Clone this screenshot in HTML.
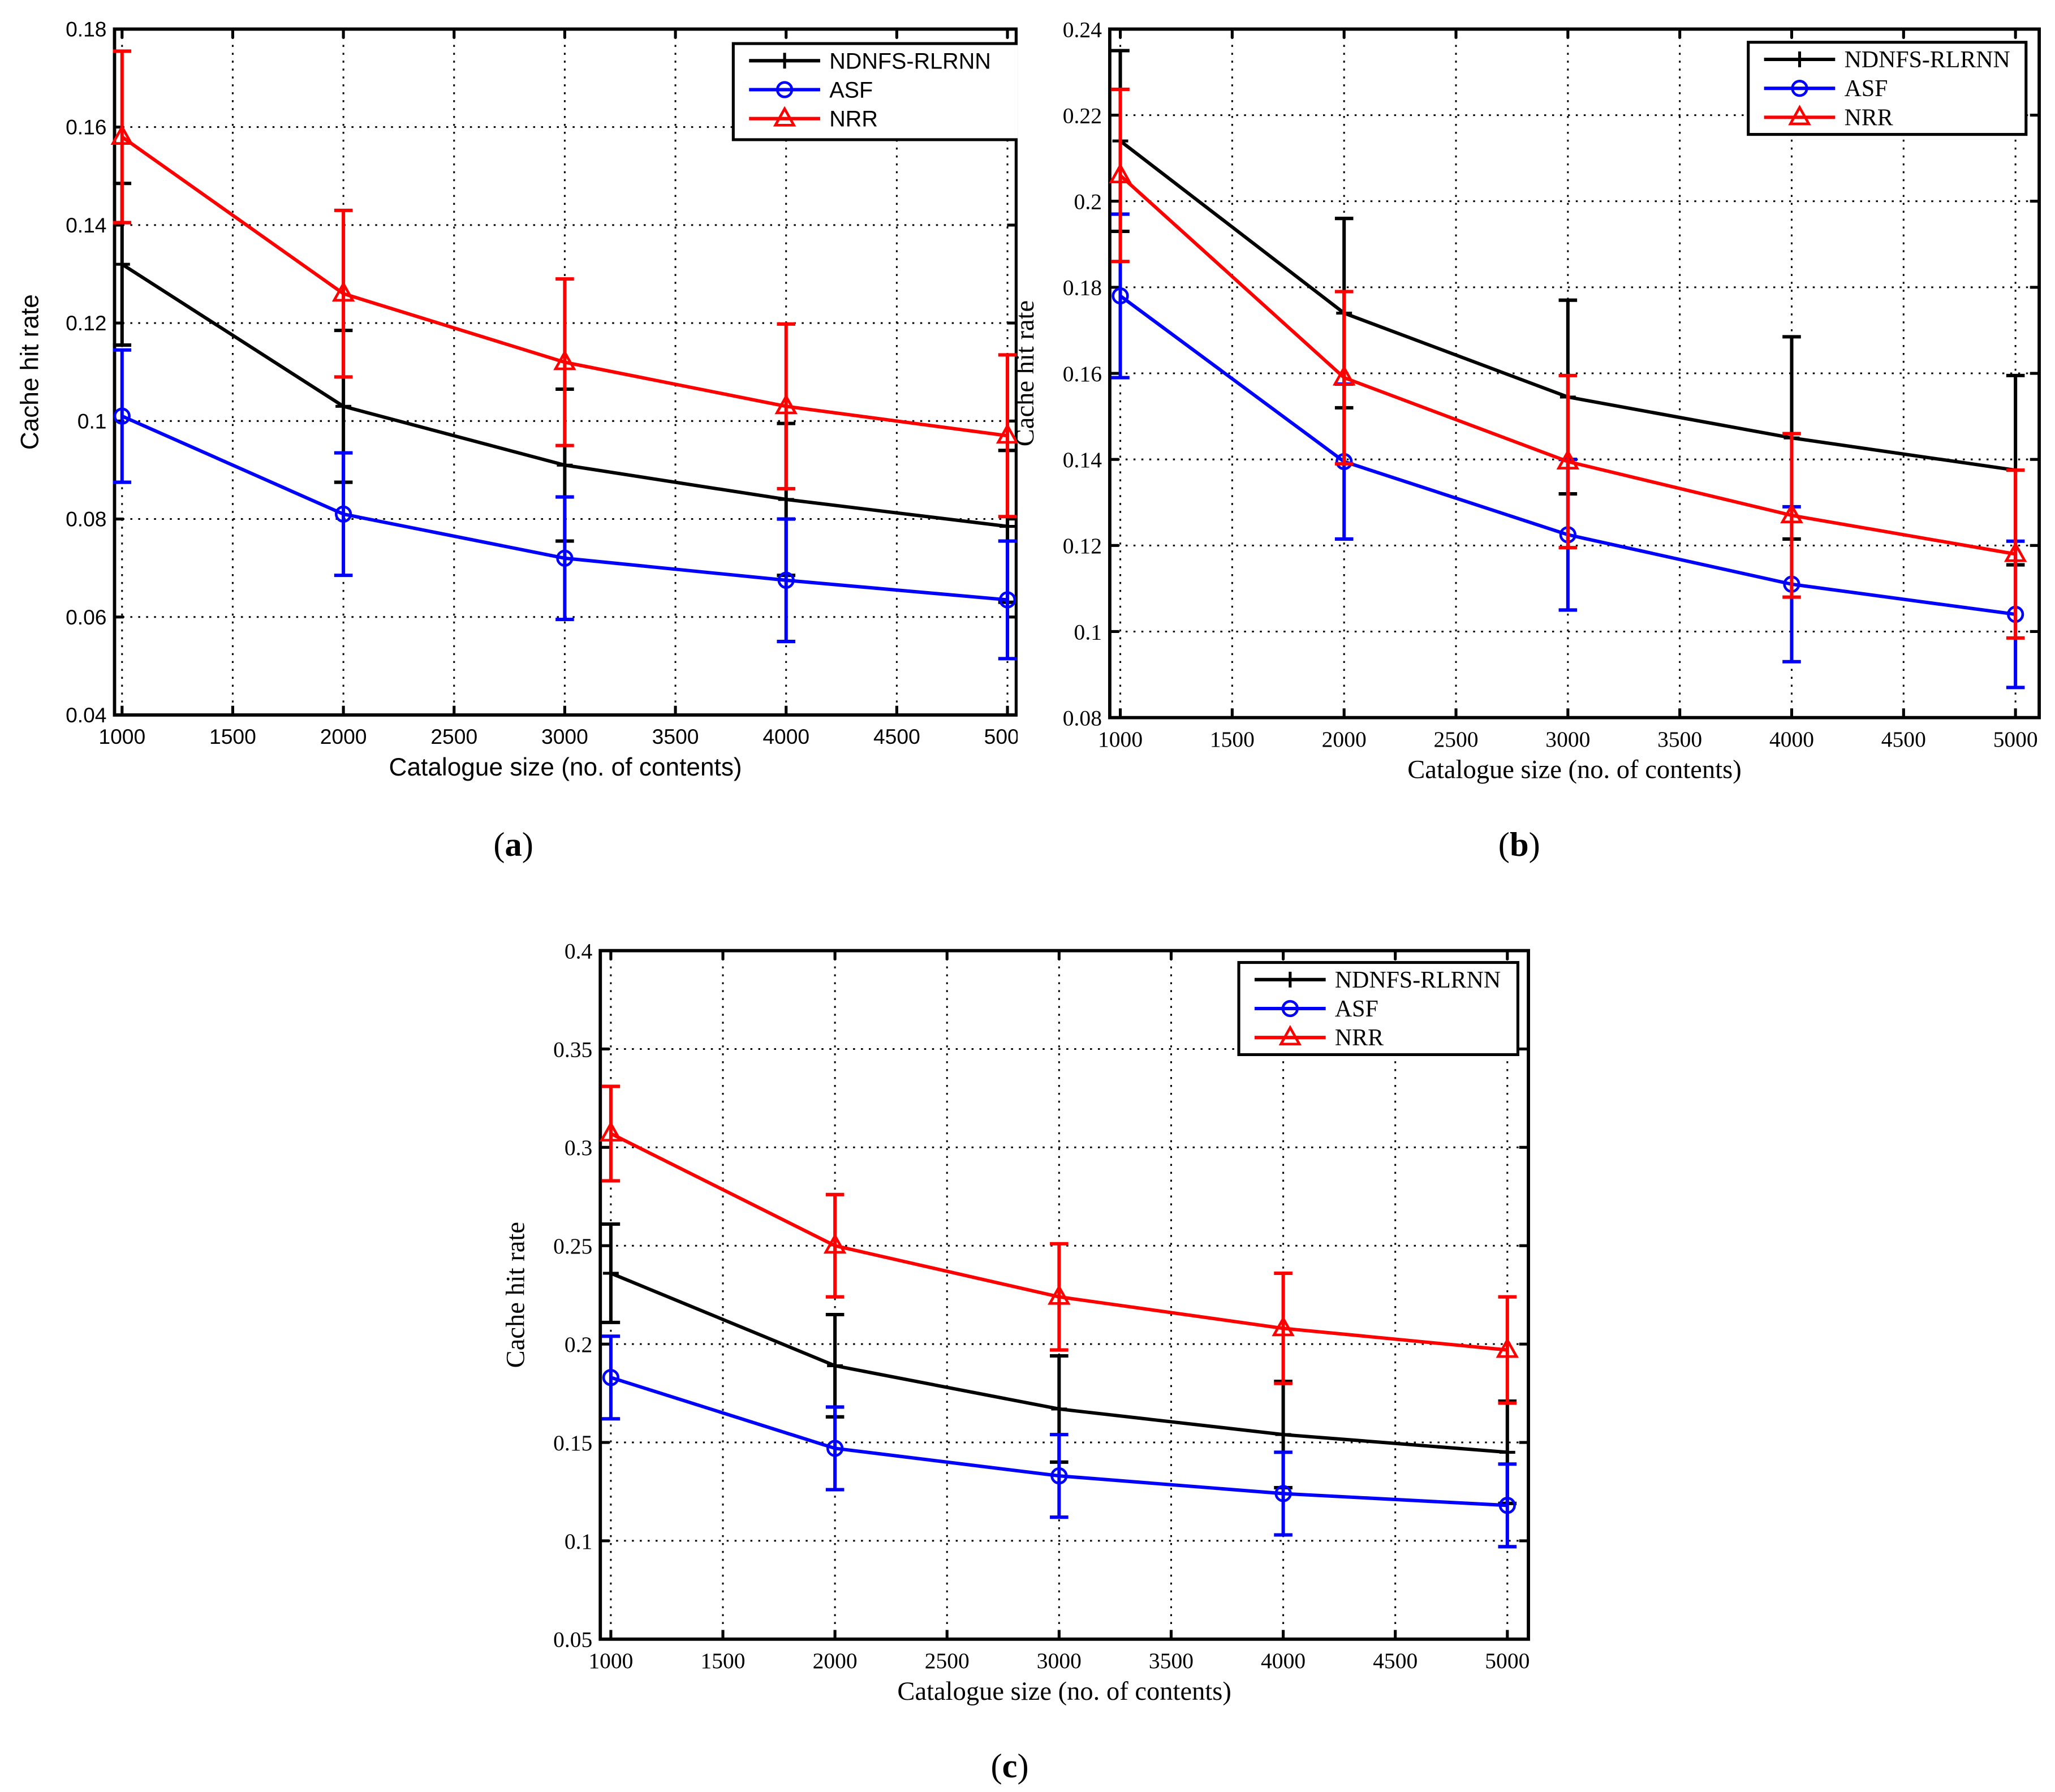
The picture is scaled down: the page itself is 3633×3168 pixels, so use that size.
<!DOCTYPE html>
<html><head><meta charset="utf-8"><style>
html,body{margin:0;padding:0;background:#fff;}
svg{display:block;}
</style></head><body>
<svg id="fig" xmlns="http://www.w3.org/2000/svg" width="3633" height="3168" viewBox="0 0 1561 1361">
<rect width="1561" height="1361" fill="#fff"/>
<defs><clipPath id="clipA"><rect x="0" y="0" width="773" height="700"/></clipPath></defs>
<g id="pa" clip-path="url(#clipA)"></g>
<g id="pb"></g>
<g id="pc"></g>
<text x="390" y="650" text-anchor="middle" font-family="Liberation Serif, serif" font-size="26">(<tspan font-weight="bold">a</tspan>)</text>
<text x="1154" y="650" text-anchor="middle" font-family="Liberation Serif, serif" font-size="26">(<tspan font-weight="bold">b</tspan>)</text>
<text x="767" y="1350" text-anchor="middle" font-family="Liberation Serif, serif" font-size="26">(<tspan font-weight="bold">c</tspan>)</text>
</svg>
<script>
const categories = [1000, 2000, 3000, 4000, 5000];
const seriesNames = ["NDNFS-RLRNN", "ASF", "NRR"];
// Panel a
const aNdnfs = [0.132, 0.103, 0.091, 0.084, 0.0785];
const aNdnfsErr = [0.0165, 0.0155, 0.0155, 0.0155, 0.0155];
const aAsf = [0.101, 0.081, 0.072, 0.0675, 0.0635];
const aAsfErr = [0.0135, 0.0125, 0.0125, 0.0125, 0.012];
const aNrr = [0.158, 0.126, 0.112, 0.103, 0.097];
const aNrrErr = [0.0175, 0.017, 0.017, 0.0168, 0.0165];
const aYTicks = [0.04, 0.06, 0.08, 0.1, 0.12, 0.14, 0.16, 0.18];
const aYLabels = ["0.04","0.06","0.08","0.1","0.12","0.14","0.16","0.18"];
// Panel b
const bNdnfs = [0.214, 0.174, 0.1545, 0.145, 0.1375];
const bNdnfsErr = [0.021, 0.022, 0.0225, 0.0235, 0.022];
const bAsf = [0.178, 0.1395, 0.1225, 0.111, 0.104];
const bAsfErr = [0.019, 0.018, 0.0175, 0.018, 0.017];
const bNrr = [0.206, 0.159, 0.1395, 0.127, 0.118];
const bNrrErr = [0.020, 0.020, 0.020, 0.019, 0.0195];
const bYTicks = [0.08, 0.1, 0.12, 0.14, 0.16, 0.18, 0.2, 0.22, 0.24];
const bYLabels = ["0.08","0.1","0.12","0.14","0.16","0.18","0.2","0.22","0.24"];
// Panel c
const cNdnfs = [0.236, 0.189, 0.167, 0.154, 0.145];
const cNdnfsErr = [0.025, 0.026, 0.027, 0.027, 0.026];
const cAsf = [0.183, 0.147, 0.133, 0.124, 0.118];
const cAsfErr = [0.021, 0.021, 0.021, 0.021, 0.021];
const cNrr = [0.307, 0.25, 0.224, 0.208, 0.197];
const cNrrErr = [0.024, 0.026, 0.027, 0.028, 0.027];
const cYTicks = [0.05, 0.1, 0.15, 0.2, 0.25, 0.3, 0.35, 0.4];
const cYLabels = ["0.05","0.1","0.15","0.2","0.25","0.3","0.35","0.4"];
const xTicks = [1000, 1500, 2000, 2500, 3000, 3500, 4000, 4500, 5000];
const xLabels = ["1000","1500","2000","2500","3000","3500","4000","4500","5000"];

const NS = "http://www.w3.org/2000/svg";
function mk(parent, tag, attrs, text) {
  const e = document.createElementNS(NS, tag);
  for (const k in attrs) e.setAttribute(k, attrs[k]);
  if (text !== undefined) e.textContent = text;
  parent.appendChild(e);
  return e;
}

function panel(g, cfg) {
  const {L, R, T, B, xmin, xmax, ymin, ymax, font, fs, yT, yL, series, leg, key} = cfg;
  const sx = v => L + (v - xmin) / (xmax - xmin) * (R - L);
  const sy = v => B - (v - ymin) / (ymax - ymin) * (B - T);
  xTicks.forEach((t, i) => {
    const x = sx(t);
    const gl = mk(g, "line", {x1: x, x2: x, y1: T, y2: B, stroke: "#000", "stroke-width": 1.3, "stroke-dasharray": "1.5,4.5"});
    
    
    mk(g, "line", {x1: x, x2: x, y1: B, y2: B - 7, stroke: "#000", "stroke-width": 2.2});
    mk(g, "line", {x1: x, x2: x, y1: T, y2: T + 7, stroke: "#000", "stroke-width": 2.2});
    const tl = mk(g, "text", {x: x, y: B + 22, "text-anchor": "middle", "font-family": font, "font-size": fs}, xLabels[i]);
    
    
  });
  yT.forEach((t, i) => {
    const y = sy(t);
    const gl = mk(g, "line", {x1: L, x2: R, y1: y, y2: y, stroke: "#000", "stroke-width": 1.3, "stroke-dasharray": "1.5,4.5"});
    
    
    mk(g, "line", {x1: L, x2: L + 7, y1: y, y2: y, stroke: "#000", "stroke-width": 2.2});
    mk(g, "line", {x1: R, x2: R - 7, y1: y, y2: y, stroke: "#000", "stroke-width": 2.2});
    const tl = mk(g, "text", {x: L - 6, y: y + fs * 0.35, "text-anchor": "end", "font-family": font, "font-size": fs}, yL[i]);
    
    
  });
  const box = mk(g, "rect", {x: L, y: T, width: R - L, height: B - T, fill: "none", stroke: "#000", "stroke-width": 2.5});
  
  
  const xt = mk(g, "text", {x: (L + R) / 2, y: B + 46, "text-anchor": "middle", "font-family": font, "font-size": fs + 3}, "Catalogue size (no. of contents)");
  
  
  const yx = L - 58, yy = (T + B) / 2;
  const yt = mk(g, "text", {x: yx, y: yy, "text-anchor": "middle", "font-family": font, "font-size": fs + 3, transform: `rotate(-90 ${yx} ${yy})`}, "Cache hit rate");
  
  
  series.forEach(s => {
    const sg = mk(g, "g", {});
    
    
    const pts = categories.map((c, i) => sx(c) + "," + sy(s.vals[i])).join(" ");
    mk(sg, "polyline", {points: pts, fill: "none", stroke: s.color, "stroke-width": 2.6});
    categories.forEach((c, i) => {
      const x = sx(c), y1 = sy(s.vals[i] + s.err[i]), y2 = sy(s.vals[i] - s.err[i]);
      const eb = mk(sg, "path", {d: `M${x},${y1}V${y2}M${x - 7},${y1}H${x + 7}M${x - 7},${y2}H${x + 7}`, stroke: s.color, "stroke-width": 2.6, fill: "none"});
      
      
      marker(sg, s.m, x, sy(s.vals[i]), s.color, key);
    });
  });
  const lg = mk(g, "g", {});
  
  
  mk(lg, "rect", {x: leg.x, y: leg.y, width: leg.w, height: leg.h, fill: "#fff", stroke: "#000", "stroke-width": 2.2});
  series.forEach((s, i) => {
    const y = leg.y + 13 + i * 22;
    const e = mk(lg, "g", {});
    
    
    mk(e, "line", {x1: leg.x + 12, x2: leg.x + 66, y1: y, y2: y, stroke: s.color, "stroke-width": 2.6});
    marker(e, s.m, leg.x + 39, y, s.color, key);
    mk(e, "text", {x: leg.x + 73, y: y + 6, "font-family": font, "font-size": fs + 1}, s.name);
  });
}
function marker(g, m, x, y, c, key) {
  let e;
  if (m === "plus") e = mk(g, "path", {d: `M${x - 6},${y}H${x + 6}M${x},${y - 6}V${y + 6}`, stroke: c, "stroke-width": 2.2});
  else if (m === "circle") e = mk(g, "circle", {cx: x, cy: y, r: 5.5, fill: "none", stroke: c, "stroke-width": 2});
  else e = mk(g, "path", {d: `M${x},${y - 7.5}L${x + 7},${y + 5}H${x - 7}Z`, fill: "none", stroke: c, "stroke-width": 2});
  
  
}
const sans = "Liberation Sans, sans-serif", serif = "Liberation Serif, serif";
panel(document.getElementById("pa"), {key: "a", L: 87, R: 772, T: 22, B: 543, xmin: 966, xmax: 5040, ymin: 0.04, ymax: 0.18, font: sans, fs: 16, yT: aYTicks, yL: aYLabels,
  series: [{name: seriesNames[0], vals: aNdnfs, err: aNdnfsErr, color: "#000", m: "plus"}, {name: seriesNames[1], vals: aAsf, err: aAsfErr, color: "#00f", m: "circle"}, {name: seriesNames[2], vals: aNrr, err: aNrrErr, color: "#f00", m: "tri"}],
  leg: {x: 557, y: 33, w: 230, h: 73}});
panel(document.getElementById("pb"), {key: "b", L: 843, R: 1549, T: 22, B: 545, xmin: 953, xmax: 5106, ymin: 0.08, ymax: 0.24, font: serif, fs: 17, yT: bYTicks, yL: bYLabels,
  series: [{name: seriesNames[0], vals: bNdnfs, err: bNdnfsErr, color: "#000", m: "plus"}, {name: seriesNames[1], vals: bAsf, err: bAsfErr, color: "#00f", m: "circle"}, {name: seriesNames[2], vals: bNrr, err: bNrrErr, color: "#f00", m: "tri"}],
  leg: {x: 1328, y: 32, w: 211, h: 70}});
panel(document.getElementById("pc"), {key: "c", L: 456, R: 1161, T: 722, B: 1245, xmin: 953, xmax: 5094, ymin: 0.05, ymax: 0.4, font: serif, fs: 17, yT: cYTicks, yL: cYLabels,
  series: [{name: seriesNames[0], vals: cNdnfs, err: cNdnfsErr, color: "#000", m: "plus"}, {name: seriesNames[1], vals: cAsf, err: cAsfErr, color: "#00f", m: "circle"}, {name: seriesNames[2], vals: cNrr, err: cNrrErr, color: "#f00", m: "tri"}],
  leg: {x: 941, y: 731, w: 212, h: 70}});
</script>
</body></html>
